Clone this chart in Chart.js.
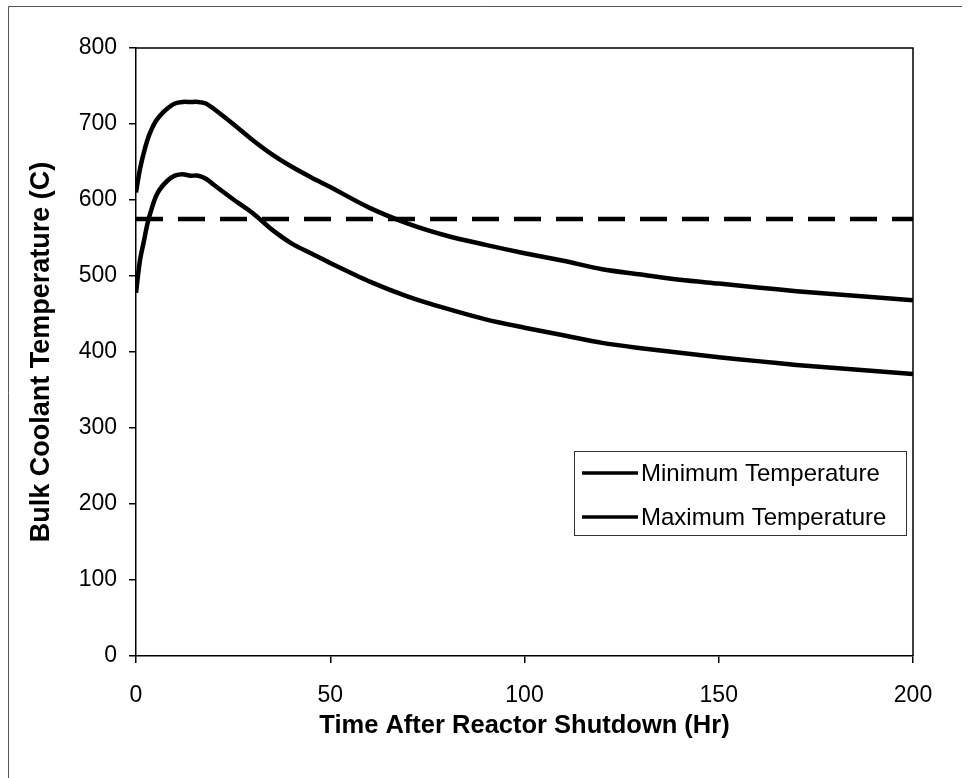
<!DOCTYPE html>
<html>
<head>
<meta charset="utf-8">
<script src="https://cdn.jsdelivr.net/npm/chart.js@4.4.1/dist/chart.umd.min.js"></script>
<style>
  html, body { margin: 0; padding: 0; background: #fff; }
  canvas { display: block; }
</style>
</head>
<body>
<canvas id="coolantChart" width="974" height="778"></canvas>
<script>
// Time after reactor shutdown (hr)
const hours = [0, 1, 2, 3, 4, 5, 6, 8, 10, 12, 14, 16, 18, 20, 25, 30, 35, 40, 45, 50,
               60, 70, 80, 90, 100, 110, 120, 130, 140, 150, 160, 170, 180, 190, 200];

// Bulk coolant temperature (C)
const minTemps = [478, 520, 545, 570, 588, 603, 613, 625, 632, 634, 632, 632, 628, 620, 601, 583, 561, 543, 530, 517,
                  493, 473, 457, 443, 432, 422, 412, 405, 399, 393, 388, 383, 379, 375, 371];
const maxTemps = [610, 640, 662, 680, 693, 703, 710, 720, 727, 729, 729, 729, 727, 720, 700, 679, 660, 644, 630, 617,
                  590, 569, 553, 541, 530, 520, 509, 502, 495, 490, 485, 480, 476, 472, 468];

// Dashed limit line
const limitHours = [0, 200];
const limitTemps = [575, 575];

// Axis ticks
const xTicks = [0, 50, 100, 150, 200];
const yTicks = [0, 100, 200, 300, 400, 500, 600, 700, 800];

const seriesLabels = ['Minimum Temperature', 'Maximum Temperature'];

function toPoints(xs, ys) {
    return xs.map((x, i) => ({ x: x, y: ys[i] }));
}

// Plot border, page frame and the boxed legend inside the plot
const framePlugin = {
    id: 'frame',
    afterDraw(chart) {
        const ctx = chart.ctx;
        const a = chart.chartArea;
        ctx.save();

        ctx.strokeStyle = '#000';
        ctx.lineWidth = 1.5;
        ctx.beginPath();
        ctx.moveTo(a.left, a.top);
        ctx.lineTo(a.right, a.top);
        ctx.lineTo(a.right, a.bottom);
        ctx.stroke();

        ctx.strokeStyle = '#555';
        ctx.lineWidth = 1;
        ctx.beginPath();
        ctx.moveTo(8.5, 778);
        ctx.lineTo(8.5, 6.5);
        ctx.lineTo(962, 6.5);
        ctx.stroke();

        // Legend box
        const boxRight = a.right - 7;
        const boxLeft = boxRight - 332;
        const boxTop = a.bottom - 205;
        const boxHeight = 84;
        ctx.fillStyle = '#fff';
        ctx.fillRect(boxLeft, boxTop, boxRight - boxLeft, boxHeight);
        ctx.strokeStyle = '#333';
        ctx.lineWidth = 1;
        ctx.strokeRect(boxLeft + 0.5, boxTop + 0.5, boxRight - boxLeft, boxHeight);

        const items = chart.data.datasets.filter(ds => ds.label);
        ctx.font = '24px "Liberation Sans", Arial, sans-serif';
        ctx.textBaseline = 'middle';
        ctx.textAlign = 'left';
        items.forEach((ds, i) => {
            const y = boxTop + 22 + i * 44;
            ctx.strokeStyle = ds.borderColor;
            ctx.lineWidth = 3.5;
            ctx.beginPath();
            ctx.moveTo(boxLeft + 8, y);
            ctx.lineTo(boxLeft + 64, y);
            ctx.stroke();
            ctx.fillStyle = '#000';
            ctx.fillText(ds.label, boxLeft + 67, y + 1);
        });

        ctx.restore();
    }
};

const ctx = document.getElementById('coolantChart').getContext('2d');

new Chart(ctx, {
    type: 'line',
    data: {
        datasets: [
            {
                label: seriesLabels[0],
                data: toPoints(hours, minTemps),
                borderColor: '#000',
                borderWidth: 4.5,
                pointRadius: 0,
                tension: 0.3,
                fill: false
            },
            {
                label: seriesLabels[1],
                data: toPoints(hours, maxTemps),
                borderColor: '#000',
                borderWidth: 4.5,
                pointRadius: 0,
                tension: 0.3,
                fill: false
            },
            {
                label: '',
                data: toPoints(limitHours, limitTemps),
                borderColor: '#000',
                borderWidth: 4.5,
                borderDash: [27, 15],
                pointRadius: 0,
                fill: false
            }
        ]
    },
    options: {
        responsive: false,
        animation: false,
        devicePixelRatio: 1,
        layout: {
            padding: { top: 48, right: 61, left: 0, bottom: 0 }
        },
        plugins: {
            legend: { display: false },
            tooltip: { enabled: false }
        },
        scales: {
            x: {
                type: 'linear',
                min: 0,
                max: 200,
                afterBuildTicks: axis => { axis.ticks = xTicks.map(v => ({ value: v })); },
                afterFit: axis => { axis.height = 122; },
                grid: { drawOnChartArea: false, drawTicks: true, tickLength: 7, color: '#000', lineWidth: 1.5 },
                border: { display: true, color: '#000', width: 1.5 },
                ticks: {
                    color: '#000',
                    padding: 19,
                    maxRotation: 0,
                    font: { family: '"Liberation Sans", Arial, sans-serif', size: 23 }
                },
                title: {
                    display: true,
                    text: 'Time After Reactor Shutdown (Hr)',
                    color: '#000',
                    padding: { top: 0, bottom: 37 },
                    font: { family: '"Liberation Sans", Arial, sans-serif', size: 25.5, weight: 'bold' }
                }
            },
            y: {
                min: 0,
                max: 800,
                afterBuildTicks: axis => { axis.ticks = yTicks.map(v => ({ value: v })); },
                afterFit: axis => { axis.width = 136; },
                grid: { drawOnChartArea: false, drawTicks: true, tickLength: 7, color: '#000', lineWidth: 1.5 },
                border: { display: true, color: '#000', width: 1.5 },
                ticks: {
                    color: '#000',
                    padding: 12,
                    font: { family: '"Liberation Sans", Arial, sans-serif', size: 23 }
                },
                title: {
                    display: true,
                    text: 'Bulk Coolant Temperature (C)',
                    color: '#000',
                    padding: { top: 25, bottom: 0 },
                    font: { family: '"Liberation Sans", Arial, sans-serif', size: 27, weight: 'bold' }
                }
            }
        }
    },
    plugins: [framePlugin]
});
</script>
</body>
</html>
